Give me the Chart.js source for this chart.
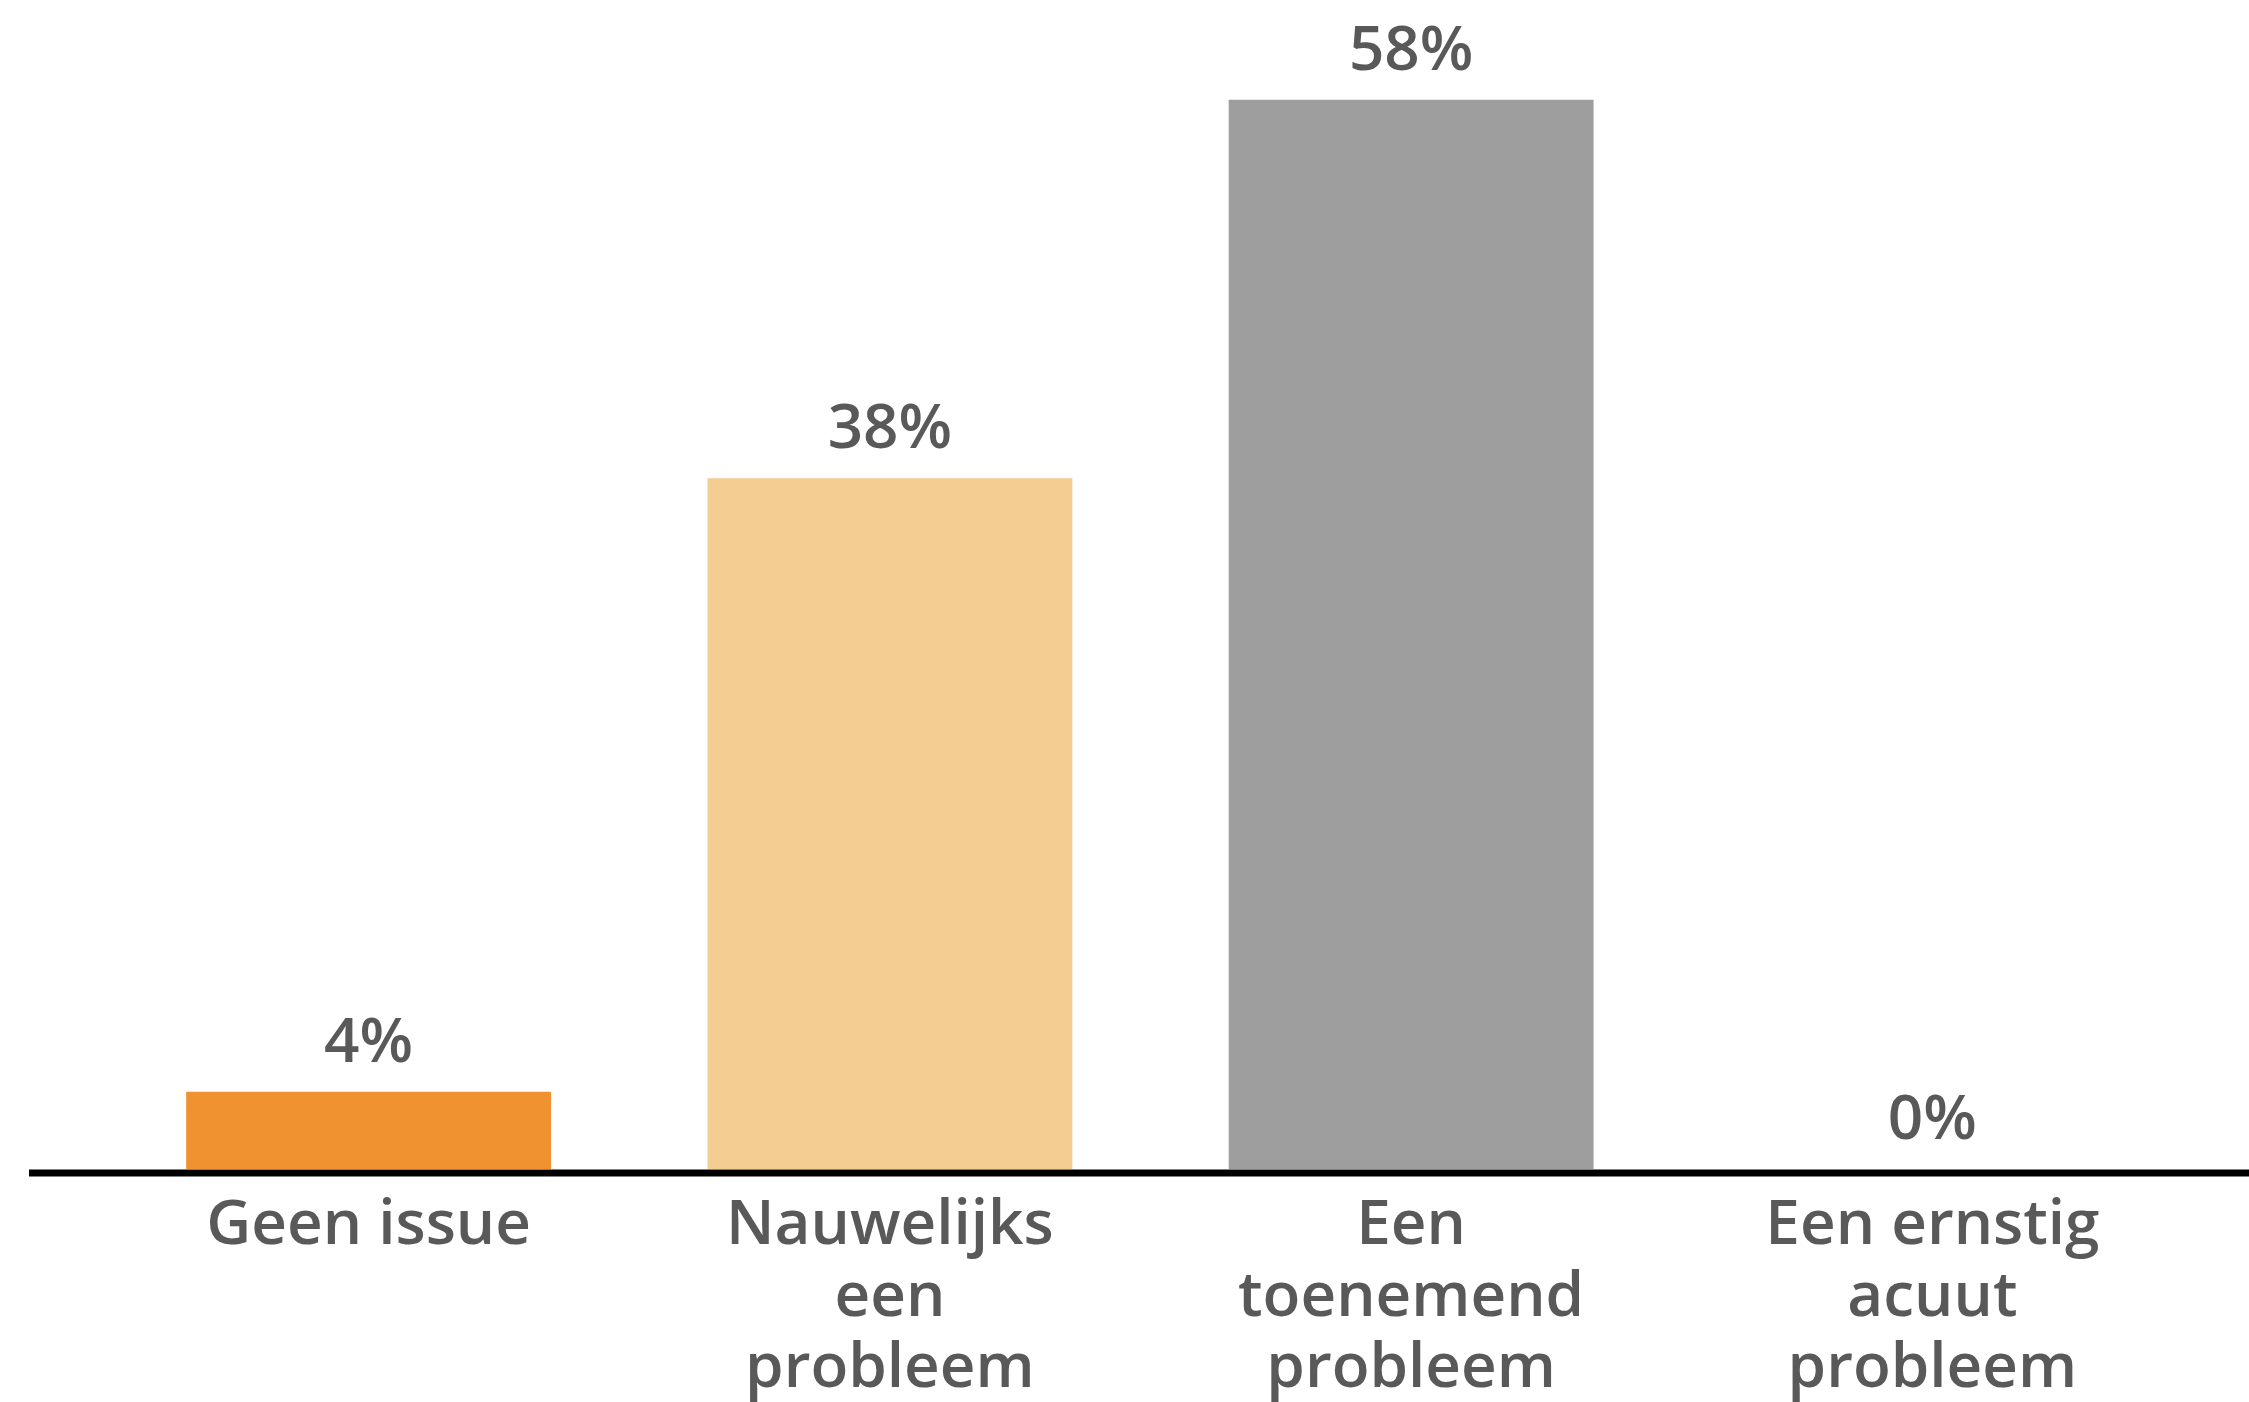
<!DOCTYPE html>
<html>
<head>
<meta charset="utf-8">
<script src="https://cdn.jsdelivr.net/npm/chart.js@4.4.1/dist/chart.umd.min.js"></script>
<style>
  html, body { margin: 0; padding: 0; background: #ffffff; }
  #wrap { width: 2249px; height: 1402px; position: relative; }
</style>
</head>
<body>
<div id="wrap"><canvas id="c" width="2249" height="1402"></canvas></div>
<script>
const categories = [
  ['Geen issue'],
  ['Nauwelijks', 'een', 'probleem'],
  ['Een', 'toenemend', 'probleem'],
  ['Een ernstig', 'acuut', 'probleem']
];
const values = [4.2, 37.6, 58.2, 0];
const valueLabels = ['4%', '38%', '58%', '0%'];
const barColors = ['#F0922F', '#F4CD93', '#9E9E9E', '#9E9E9E'];

const FONT = '"Open Sans", Lato, sans-serif';
const TEXT = '#595959';

const valueLabelPlugin = {
  id: 'valueLabels',
  afterDatasetsDraw(chart) {
    const ctx = chart.ctx;
    const meta = chart.getDatasetMeta(0);
    ctx.save();
    ctx.font = '600 62px ' + FONT;
    ctx.fillStyle = TEXT;
    ctx.textAlign = 'center';
    ctx.textBaseline = 'alphabetic';
    meta.data.forEach((bar, i) => {
      ctx.fillText(valueLabels[i], bar.x, bar.y - 30);
    });
    ctx.restore();
  }
};

const baseLinePlugin = {
  id: 'baseLine',
  afterDatasetsDraw(chart) {
    const ctx = chart.ctx;
    const y0 = chart.scales.y.getPixelForValue(0);
    ctx.save();
    ctx.strokeStyle = '#000000';
    ctx.lineWidth = 7;
    ctx.beginPath();
    ctx.moveTo(29, y0 + 4);
    ctx.lineTo(chart.width, y0 + 4);
    ctx.stroke();
    ctx.restore();
  }
};

new Chart(document.getElementById('c'), {
  type: 'bar',
  data: {
    labels: categories,
    datasets: [{
      data: values,
      backgroundColor: barColors,
      borderWidth: 0,
      barPercentage: 0.7,
      categoryPercentage: 1.0
    }]
  },
  options: {
    responsive: false,
    animation: false,
    devicePixelRatio: 1,
    layout: { padding: { top: 30, left: 108, right: 56, bottom: 0 } },
    plugins: {
      legend: { display: false },
      tooltip: { enabled: false },
      title: { display: false }
    },
    scales: {
      x: {
        grid: { display: false, drawTicks: false },
        border: { display: false },
        ticks: {
          color: TEXT,
          padding: 21,
          maxRotation: 0,
          autoSkip: false,
          font: { family: FONT, size: 62, weight: '600', lineHeight: 1.16 }
        },
        afterFit(scale) { scale.height = 233; }
      },
      y: {
        display: false,
        min: 0,
        max: 62
      }
    }
  },
  plugins: [valueLabelPlugin, baseLinePlugin]
});
</script>
</body>
</html>
